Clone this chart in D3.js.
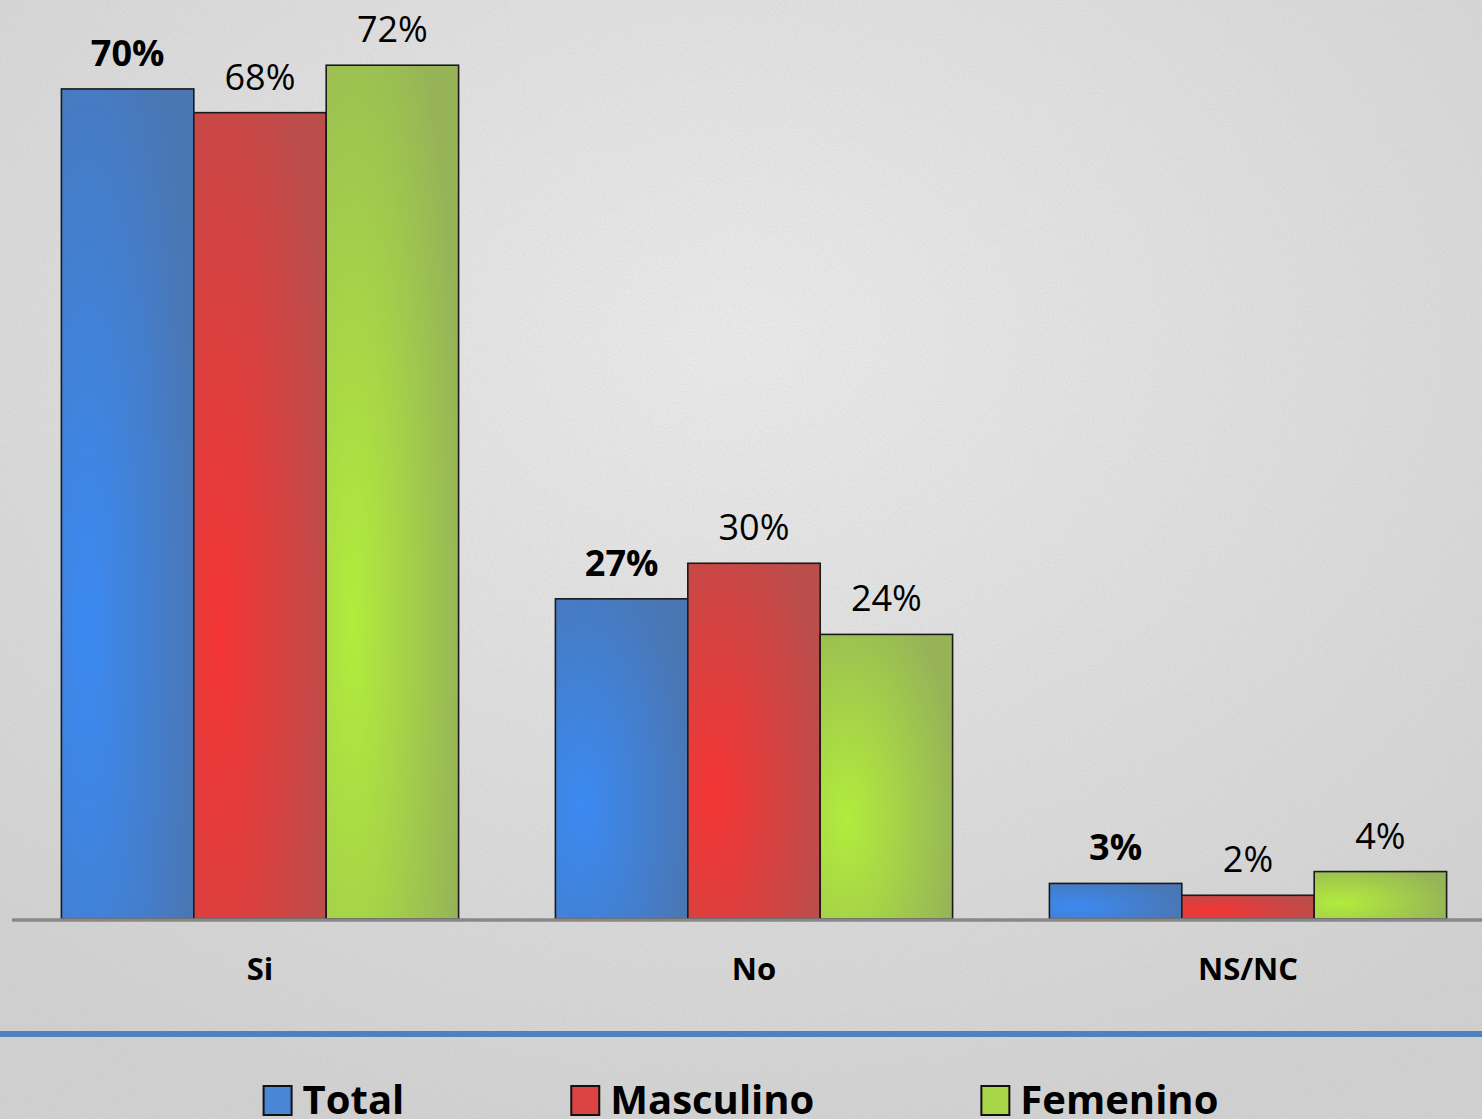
<!DOCTYPE html>
<html><head><meta charset="utf-8">
<script src="https://cdn.jsdelivr.net/npm/d3@7"></script>
<style>html,body{margin:0;padding:0;overflow:hidden;background:#dedede}</style>
</head><body>
<svg id="chart" width="1482" height="1119"></svg>
<script>
const categories = ["Si", "No", "NS/NC"];
const seriesNames = ["Total", "Masculino", "Femenino"];
const totalValues = [70, 27, 3];
const masculinoValues = [68, 30, 2];
const femeninoValues = [72, 24, 4];
const valueLabels = [["70%","27%","3%"],["68%","30%","2%"],["72%","24%","4%"]];

const seriesValues = [totalValues, masculinoValues, femeninoValues];
const W = 1482, H = 1119;
const svg = d3.select("#chart");
const defs = svg.append("defs");

// background
const bg = defs.append("radialGradient").attr("id","bgGrad").attr("cx","50%").attr("cy","30%").attr("r","75%");
bg.append("stop").attr("offset","0%").attr("stop-color","#f0f0f0");
bg.append("stop").attr("offset","100%").attr("stop-color","#d4d4d4");
const noise = defs.append("filter").attr("id","noise").attr("x",0).attr("y",0).attr("width","100%").attr("height","100%");
noise.append("feTurbulence").attr("type","fractalNoise").attr("baseFrequency","0.7").attr("numOctaves",2).attr("seed",3).attr("result","t");
noise.append("feColorMatrix").attr("in","t").attr("type","matrix")
  .attr("values","0 0 0 0 0.45  0 0 0 0 0.45  0 0 0 0 0.45  0 0 0 0.6 0");
svg.append("rect").attr("width",W).attr("height",H).attr("fill","url(#bgGrad)");
svg.append("rect").attr("width",W).attr("height",H).attr("filter","url(#noise)").attr("opacity",0.5);

// bar gradients
const gradSpecs = [
  {id:"gTotal", inner:"#3b8af2", outer:"#4a76b3"},
  {id:"gMasc", inner:"#f53535", outer:"#bb4d4b"},
  {id:"gFem", inner:"#b2ec3c", outer:"#96b457"}
];
gradSpecs.forEach(g => {
  const rg = defs.append("radialGradient").attr("id", g.id)
    .attr("cx","20%").attr("cy","65%").attr("r","85%").attr("fx","20%").attr("fy","65%");
  rg.append("stop").attr("offset","0%").attr("stop-color", g.inner);
  rg.append("stop").attr("offset","100%").attr("stop-color", g.outer);
});
const legendFill = ["#4a86d6","#dc4444","#a8d448"];

const baseY = 919;
const x0 = d3.scaleBand().domain(categories).range([13, 1495]).paddingInner(0.196).paddingOuter(0.098);
const x1 = d3.scaleBand().domain(seriesNames).range([0, x0.bandwidth()]);
const y = d3.scaleLinear().domain([0, 77.5]).range([baseY, 0]);

const font = "'Open Sans', 'Noto Sans', sans-serif";

const groups = svg.append("g").selectAll("g").data(categories).join("g")
  .attr("transform", d => `translate(${x0(d)},0)`);

groups.each(function(cat, ci) {
  const g = d3.select(this);
  seriesNames.forEach((s, si) => {
    const v = seriesValues[si][ci];
    g.append("rect")
      .attr("x", x1(s)).attr("y", y(v))
      .attr("width", x1.bandwidth()).attr("height", baseY - y(v))
      .attr("fill", `url(#${gradSpecs[si].id})`)
      .attr("stroke", "#1a1a1a").attr("stroke-width", 1.6);
    g.append("text")
      .attr("x", x1(s) + x1.bandwidth()/2).attr("y", y(v) - 23)
      .attr("text-anchor","middle")
      .attr("font-family", font).attr("font-size", 36)
      .attr("font-weight", si === 0 ? 700 : 400)
      .attr("fill","#000").text(valueLabels[si][ci]);
  });
});

// axis line
svg.append("line").attr("x1",12).attr("x2",W).attr("y1",baseY+1).attr("y2",baseY+1)
  .attr("stroke","#888").attr("stroke-width",3.5);

// category labels
svg.append("g").selectAll("text").data(categories).join("text")
  .attr("x", d => x0(d) + x0.bandwidth()/2).attr("y", 980)
  .attr("text-anchor","middle").attr("font-family",font).attr("font-weight",700)
  .attr("font-size",31).attr("fill","#000").text(d => d);

// blue separator
svg.append("line").attr("x1",0).attr("x2",W).attr("y1",1034).attr("y2",1034)
  .attr("stroke","#4f81bd").attr("stroke-width",6);

// legend
const legend = svg.append("g");
const items = legend.selectAll("g").data(seriesNames).join("g");
items.append("rect").attr("x",0).attr("y",1086).attr("width",28).attr("height",29)
  .attr("fill",(d,i)=>legendFill[i]).attr("stroke","#111").attr("stroke-width",2);
items.append("text").attr("x",39).attr("y",1114)
  .attr("font-family",font).attr("font-weight",700).attr("font-size",40).attr("fill","#000")
  .text(d=>d);
const widths = [];
items.each(function(){ widths.push(39 + d3.select(this).select("text").node().getComputedTextLength()); });
const gap = 167;
const total = d3.sum(widths) + gap*(widths.length-1);
let start = 741 - total/2;
items.attr("transform",(d,i)=>{ const t = `translate(${start},0)`; start += widths[i] + gap; return t; });
</script>
</body></html>
